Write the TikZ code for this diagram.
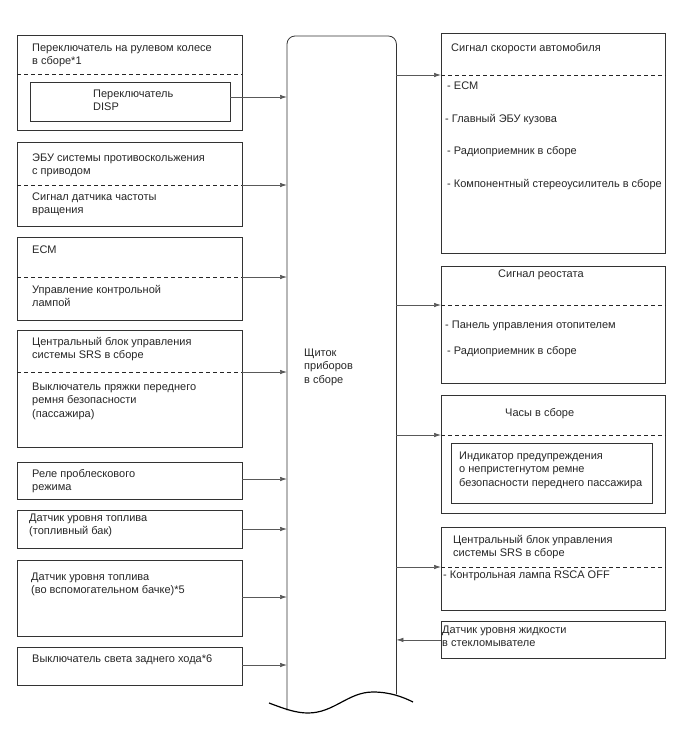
\documentclass[tikz,border=0pt]{standalone}
\usepackage{fontspec}
\setmainfont{Liberation Sans}
\usetikzlibrary{arrows.meta}
\newcommand\rows[1]{\begin{tabular}[t]{@{}l@{}}#1\end{tabular}}

\begin{document}
\begin{tikzpicture}[x=1pt, y=-1pt, >={Latex[length=7pt, width=4.5pt]},
  font=\fontsize{11}{13.5}\selectfont,
  blk/.style={draw=black!80, line width=0.8pt, anchor=north west, inner sep=0pt},
  lbl/.style={anchor=base west, inner sep=0pt, text=black!85},
  sep/.style={dashed, dash pattern=on 4pt off 3pt, line width=0.8pt, draw=black!85},
  link/.style={->, draw=black!65, line width=0.7pt}]
  \useasboundingbox (0,0) rectangle (688,755);

  % instrument panel
  \node[anchor=north west, inner sep=0pt, minimum width=109pt, minimum height=674pt] (panel) at (287,36) {};
  \draw[line width=0.8pt, draw=black!80, rounded corners=8pt] (panel.south west) -- (panel.north west)
    -- (panel.north east) -- ([yshift=16pt]panel.south east);
  \draw[line width=1.2pt] (269,703) .. controls (285,709) and (296,713) .. (308,713)
    .. controls (334,713) and (348,692) .. (373,692) .. controls (390,692) and (403,697) .. (413,702);
  \node[lbl] (paneltxt) at (304,356) {\rows{Щиток\\приборов\\в сборе}};

  % left column
  \node[blk, minimum width=225pt, minimum height=95pt] (wheel) at (17,35) {};
  \node[blk, minimum width=200pt, minimum height=39pt] (disp) at (30,82) {};
  \coordinate (wheel-d) at (242,74);
  \coordinate (disp-o) at (230,97);
  \draw[sep] (wheel.west |- wheel-d) -- (wheel-d);
  \node[lbl] at (32,51) {\rows{Переключатель на рулевом колесе\\в сборе*1}};
  \node[lbl] at (93,97) {\rows{Переключатель\\DISP}};

  \node[blk, minimum width=225pt, minimum height=84pt] (abs) at (17,142) {};
  \coordinate (abs-d) at (242,185);
  \draw[sep] (abs.west |- abs-d) -- (abs-d);
  \node[lbl] at (32,161) {\rows{ЭБУ системы противоскольжения\\с приводом}};
  \node[lbl] at (32,200) {\rows{Сигнал датчика частоты\\вращения}};

  \node[blk, minimum width=225pt, minimum height=83pt] (ecm) at (17,237) {};
  \coordinate (ecm-d) at (242,277);
  \draw[sep] (ecm.west |- ecm-d) -- (ecm-d);
  \node[lbl] at (32,253) {ECM};
  \node[lbl] at (32,293) {\rows{Управление контрольной\\лампой}};

  \node[blk, minimum width=225pt, minimum height=117pt] (srs) at (17,330) {};
  \coordinate (srs-d) at (242,372);
  \draw[sep] (srs.west |- srs-d) -- (srs-d);
  \node[lbl] at (32,345) {\rows{Центральный блок управления\\системы SRS в сборе}};
  \node[lbl] at (32,390) {\rows{Выключатель пряжки переднего\\ремня безопасности\\(пассажира)}};

  \node[blk, minimum width=225pt, minimum height=37pt] (flash) at (17,462) {};
  \coordinate (flash-o) at (242,479);
  \node[lbl] at (32,477) {\rows{Реле проблескового\\режима}};

  \node[blk, minimum width=225pt, minimum height=38pt] (fuel) at (17,510) {};
  \coordinate (fuel-o) at (242,529);
  \node[lbl] at (29,521) {\rows{Датчик уровня топлива\\(топливный бак)}};

  \node[blk, minimum width=225pt, minimum height=76pt] (subfuel) at (17,560) {};
  \coordinate (subfuel-o) at (242,597);
  \node[lbl] at (31,580) {\rows{Датчик уровня топлива\\(во вспомогательном бачке)*5}};

  \node[blk, minimum width=225pt, minimum height=38pt] (rev) at (17,647) {};
  \coordinate (rev-o) at (242,665);
  \node[lbl] at (32,662) {Выключатель света заднего хода*6};

  \foreach \src in {disp-o, abs-d, ecm-d, srs-d, flash-o, fuel-o, subfuel-o, rev-o}
    \draw[link] (\src) -- (\src -| panel.west);

  % right column
  \node[blk, minimum width=224pt, minimum height=220pt] (speed) at (441,33) {};
  \coordinate (speed-d) at (441,75);
  \draw[sep] (speed-d) -- (speed-d -| speed.east);
  \node[lbl] at (451,51) {Сигнал скорости автомобиля};
  \node[lbl] at (447,89) {- ECM};
  \node[lbl] at (445,122) {- Главный ЭБУ кузова};
  \node[lbl] at (447,154) {- Радиоприемник в сборе};
  \node[lbl] at (447,187) {- Компонентный стереоусилитель в сборе};

  \node[blk, minimum width=224pt, minimum height=117pt] (rheo) at (441,266) {};
  \coordinate (rheo-d) at (441,305);
  \draw[sep] (rheo-d) -- (rheo-d -| rheo.east);
  \node[lbl] at (498,277) {Сигнал реостата};
  \node[lbl] at (445,328) {- Панель управления отопителем};
  \node[lbl] at (447,354) {- Радиоприемник в сборе};

  \node[blk, minimum width=224pt, minimum height=118pt] (clock) at (441,395) {};
  \node[blk, minimum width=201pt, minimum height=60pt] (belt) at (451,443) {};
  \coordinate (clock-d) at (441,435);
  \draw[sep] (clock-d) -- (clock-d -| clock.east);
  \node[lbl] at (505,416) {Часы в сборе};
  \node[lbl] at (459,459) {\rows{Индикатор предупреждения\\о непристегнутом ремне\\безопасности переднего пассажира}};

  \node[blk, minimum width=224pt, minimum height=83pt] (rsrs) at (441,527) {};
  \coordinate (rsrs-d) at (441,567);
  \draw[sep] (rsrs-d) -- (rsrs-d -| rsrs.east);
  \node[lbl] at (453,543) {\rows{Центральный блок управления\\системы SRS в сборе}};
  \node[lbl] at (443,578) {- Контрольная лампа RSCA OFF};

  \node[blk, minimum width=224pt, minimum height=37pt] (washer) at (441,621) {};
  \node[lbl] at (442,633) {\rows{Датчик уровня жидкости\\в стекломывателе}};

  \foreach \dst in {speed-d, rheo-d, clock-d, rsrs-d}
    \draw[link] (panel.east |- \dst) -- (\dst);
  \draw[link] (washer.west) -- (washer.west -| panel.east);
\end{tikzpicture}
\end{document}
